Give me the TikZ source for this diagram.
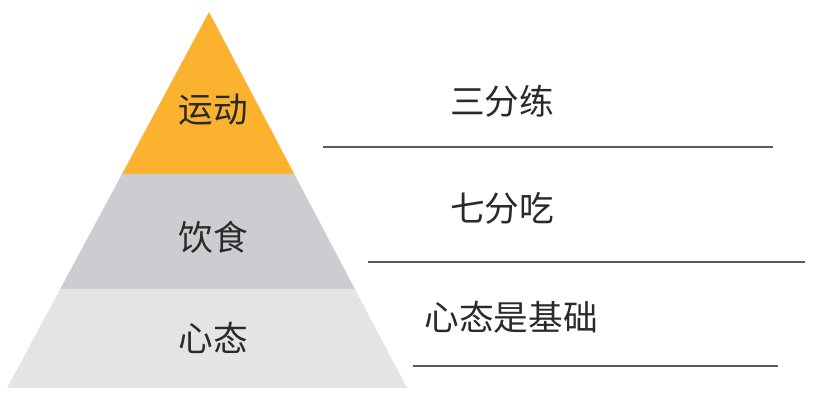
\documentclass[tikz,border=0pt]{standalone}
\usepackage{fontspec}
\newfontfamily\cjk{Noto Sans CJK SC}
\usepackage{xcolor}
\definecolor{topband}{HTML}{FAB22F}
\definecolor{midband}{HTML}{CDCCD0}
\definecolor{lowband}{HTML}{E4E4E4}
\definecolor{textgray}{HTML}{2A2A2A}
\definecolor{rulegray}{HTML}{5A5A5A}

\begin{document}
\begin{tikzpicture}[x=0.75pt,y=0.75pt,yscale=-1,xscale=1]
    \useasboundingbox (0,0) rectangle (819,406);
    \tikzset{
      label/.style={inner sep=0.75pt,text=textgray,font=\cjk\fontsize{26}{31}\selectfont},
      rule/.style={draw=rulegray,line width=0.9pt}
    }

    %Shape: Triangle [top band]
    \fill[topband] (209,12) -- (294.3,174) -- (122,174) -- cycle ;
    %Shape: Trapezoid [middle band]
    \fill[midband] (122,174) -- (294.3,174) -- (354.9,289) -- (60.2,289) -- cycle ;
    %Shape: Trapezoid [bottom band]
    \fill[lowband] (60.2,289) -- (354.9,289) -- (407,388) -- (7,388) -- cycle ;

    %Straight Lines
    \draw[rule] (323,147) -- (773,147) ;
    %Straight Lines
    \draw[rule] (368,262) -- (805,262) ;
    %Straight Lines
    \draw[rule] (413,366) -- (778,366) ;

    % Text Node
    \node[label] (sport) at (213,110) {运动};
    % Text Node
    \node[label] (food) at (213,237) {饮食};
    % Text Node
    \node[label] (mind) at (213,338) {心态};
    % Text Node
    \node[label] (sportnote) at (502,101) {三分练};
    % Text Node
    \node[label] (foodnote) at (502,208) {七分吃};
    % Text Node
    \node[label] (mindnote) at (511,317) {心态是基础};

\end{tikzpicture}
\end{document}
